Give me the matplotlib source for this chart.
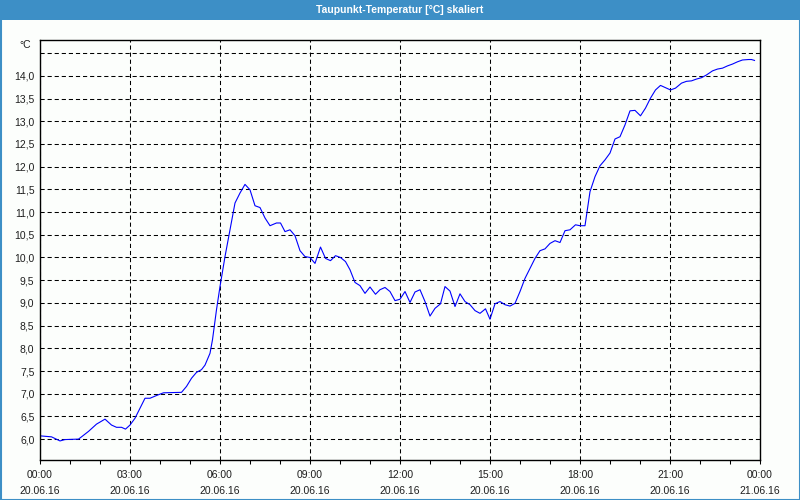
"""
    Taupunkt-Temperatur over one day (20.06.16), drawn in the style of a
    weather station web chart: blue title bar, dashed grid, comma decimals.
"""

import matplotlib
matplotlib.use('Agg')
import matplotlib.pyplot as plt
from matplotlib.patches import Rectangle
from matplotlib.lines import Line2D
from matplotlib.ticker import FuncFormatter, MultipleLocator

# Measurements: minutes after 00:00 on 20.06.16 and dew point in °C
minutes = [2, 13, 23, 40, 50, 77, 83, 97, 113, 130, 143, 153, 163, 171, 180,
           190, 210, 220, 233, 247, 283, 293, 303, 313, 323, 330, 340, 345,
           353, 360, 370, 380, 390, 400, 410, 420, 430, 440, 450, 460, 473,
           481, 490, 500, 510, 520, 530, 540, 550, 561, 571, 581, 591, 601,
           611, 620, 630, 640, 650, 660, 671, 680, 690, 700, 710, 720, 730,
           740, 750, 760, 770, 780, 790, 801, 810, 820, 830, 840, 850, 860,
           870, 880, 891, 900, 910, 920, 930, 940, 950, 960, 970, 980, 990,
           1000, 1010, 1020, 1030, 1040, 1050, 1060, 1071, 1080, 1090, 1100,
           1110, 1120, 1130, 1140, 1150, 1160, 1170, 1180, 1190, 1201, 1211,
           1221, 1231, 1241, 1251, 1261, 1271, 1283, 1293, 1303, 1313, 1323,
           1333, 1345, 1355, 1365, 1375, 1385, 1395, 1405, 1417, 1423, 1429]
dewpoint = [6.07, 6.06, 6.05, 5.96, 5.99, 6.00, 6.05, 6.17, 6.33, 6.44, 6.31,
            6.26, 6.26, 6.22, 6.31, 6.46, 6.90, 6.90, 6.96, 7.02, 7.03, 7.16,
            7.34, 7.47, 7.53, 7.63, 7.89, 8.19, 8.85, 9.36, 10.02, 10.61,
            11.20, 11.42, 11.61, 11.49, 11.14, 11.10, 10.87, 10.70, 10.76,
            10.76, 10.57, 10.61, 10.48, 10.15, 10.02, 10.00, 9.87, 10.23,
            9.98, 9.93, 10.04, 10.00, 9.91, 9.73, 9.45, 9.38, 9.21, 9.35,
            9.19, 9.29, 9.34, 9.25, 9.05, 9.08, 9.25, 9.01, 9.24, 9.29, 9.03,
            8.71, 8.88, 8.98, 9.36, 9.26, 8.92, 9.20, 9.03, 8.96, 8.83, 8.77,
            8.87, 8.64, 8.98, 9.03, 8.96, 8.93, 8.99, 9.25, 9.54, 9.76, 9.98,
            10.15, 10.19, 10.31, 10.37, 10.33, 10.59, 10.61, 10.72, 10.70,
            10.70, 11.45, 11.78, 12.02, 12.15, 12.30, 12.61, 12.66, 12.92,
            13.23, 13.24, 13.12, 13.29, 13.51, 13.69, 13.79, 13.74, 13.69,
            13.73, 13.84, 13.88, 13.89, 13.93, 13.96, 14.02, 14.11, 14.15,
            14.17, 14.22, 14.26, 14.31, 14.35, 14.36, 14.36, 14.34]

tick_hours = [0, 3, 6, 9, 12, 15, 18, 21, 24]
tick_dates = ['20.06.16'] * 8 + ['21.06.16']

title = 'Taupunkt-Temperatur [°C] skaliert'
bar_blue = '#3d8fc6'
text_col = '#1e1e1e'

plt.rcParams['font.family'] = ['Liberation Sans Narrow', 'Liberation Sans', 'DejaVu Sans']
plt.rcParams['font.size'] = 7.5

hours = [m / 60 for m in minutes]

fig = plt.figure(figsize=(8, 5), dpi=100, facecolor='#fcfefc')
ax = fig.add_axes([40 / 800, 40 / 500, 720 / 800, 420 / 500])
ax.set_facecolor('#fcfefc')

ax.plot(hours, dewpoint, color='#0000ff', linewidth=0.8)

ax.set_xlim(0, 24)
ax.set_ylim(5.54, 14.79)

# x axis: major every 3 h with grid, minor every hour
ax.set_xticks(tick_hours)
ax.set_xticklabels(['%02d:00\n%s' % (h % 24, d) for h, d in zip(tick_hours, tick_dates)],
                   linespacing=1.65, color=text_col)
ax.xaxis.set_minor_locator(MultipleLocator(1))
ax.tick_params(axis='x', which='both', direction='out', length=3, width=0.75, pad=4.5)

# y axis: comma decimals, top gridline without label
ax.yaxis.set_major_locator(MultipleLocator(0.5))
ax.yaxis.set_major_formatter(FuncFormatter(
    lambda v, p: '' if v > 14.25 else ('%.1f' % v).replace('.', ',')))
ax.tick_params(axis='y', length=0, pad=4, labelcolor=text_col)

ax.grid(True, which='major', color='black', linestyle=(0, (4, 2.8)), linewidth=0.75)
for s in ax.spines.values():
    s.set_color('black')
    s.set_linewidth(1)

ax.text(-0.012, 1.0, '°C', transform=ax.transAxes, ha='right', va='top',
        color=text_col)

# title bar and window frame
fig.patches.append(Rectangle((0, 1 - 20 / 500), 1, 20 / 500, transform=fig.transFigure,
                             facecolor=bar_blue, edgecolor='none'))
fig.text(0.5, 1 - 10 / 500, title, ha='center', va='center', color='white',
         fontweight='bold', fontsize=7.5)
for xs, ys in [([0.5 / 800, 0.5 / 800], [0, 1]), ([799.5 / 800, 799.5 / 800], [0, 1]),
               ([0, 1], [0.5 / 500, 0.5 / 500])]:
    fig.lines.append(Line2D(xs, ys, transform=fig.transFigure, color=bar_blue, linewidth=1.5))

fig.savefig('out.png', dpi=100, facecolor=fig.get_facecolor())
